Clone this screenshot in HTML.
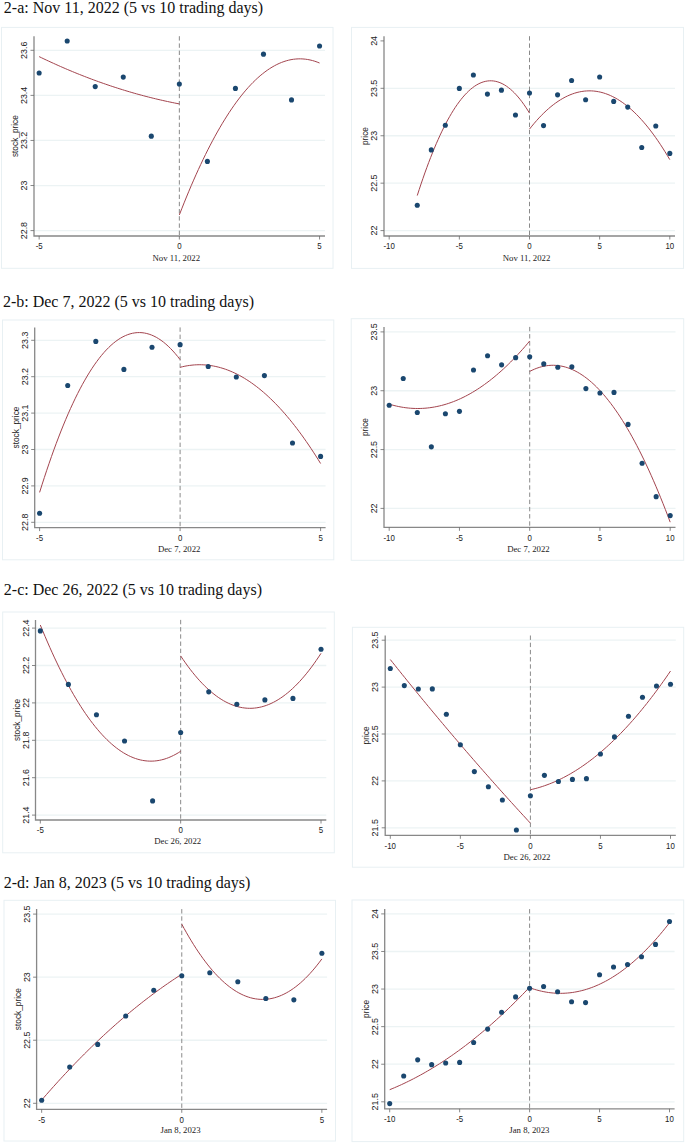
<!DOCTYPE html>
<html><head><meta charset="utf-8"><style>
html,body{margin:0;padding:0;background:#fff;}
svg{display:block;}
.sf{font-family:"Liberation Serif",serif;}
.ss{font-family:"Liberation Sans",sans-serif;}
</style></head><body>
<svg width="685" height="1143" viewBox="0 0 685 1143">
<rect width="685" height="1143" fill="#fff"/>
<text x="3.8" y="12.8" class="sf" font-size="16.0" fill="#111">2-a: Nov 11, 2022 (5 vs 10 trading days)</text>
<text x="2.9" y="306.8" class="sf" font-size="16.0" fill="#111">2-b: Dec 7, 2022 (5 vs 10 trading days)</text>
<text x="3.8" y="595.2" class="sf" font-size="16.0" fill="#111">2-c: Dec 26, 2022 (5 vs 10 trading days)</text>
<text x="3.7" y="887.8" class="sf" font-size="16.0" fill="#111">2-d: Jan 8, 2023 (5 vs 10 trading days)</text>
<rect x="1.5" y="27.4" width="331.5" height="240.9" fill="none" stroke="#e8f0f3" stroke-width="1"/>
<line x1="34" y1="230.6" x2="325" y2="230.6" stroke="#ecf3f4" stroke-width="1.3"/>
<line x1="34" y1="185.53" x2="325" y2="185.53" stroke="#ecf3f4" stroke-width="1.3"/>
<line x1="34" y1="140.45" x2="325" y2="140.45" stroke="#ecf3f4" stroke-width="1.3"/>
<line x1="34" y1="95.38" x2="325" y2="95.38" stroke="#ecf3f4" stroke-width="1.3"/>
<line x1="34" y1="50.3" x2="325" y2="50.3" stroke="#ecf3f4" stroke-width="1.3"/>
<line x1="179.35" y1="36.2" x2="179.35" y2="236" stroke="#8a8a8a" stroke-width="1" stroke-dasharray="4.4 2.8"/>
<path d="M34 36.2 V236 H325" fill="none" stroke="#888" stroke-width="1.3"/>
<line x1="30.5" y1="230.6" x2="34" y2="230.6" stroke="#6a6a6a" stroke-width="0.8"/>
<text transform="translate(27.2,230.6) rotate(-90) scale(0.94,1)" text-anchor="middle" class="ss" font-size="9.4" fill="#222">22.8</text>
<line x1="30.5" y1="185.53" x2="34" y2="185.53" stroke="#6a6a6a" stroke-width="0.8"/>
<text transform="translate(27.2,185.53) rotate(-90) scale(0.94,1)" text-anchor="middle" class="ss" font-size="9.4" fill="#222">23</text>
<line x1="30.5" y1="140.45" x2="34" y2="140.45" stroke="#6a6a6a" stroke-width="0.8"/>
<text transform="translate(27.2,140.45) rotate(-90) scale(0.94,1)" text-anchor="middle" class="ss" font-size="9.4" fill="#222">23.2</text>
<line x1="30.5" y1="95.38" x2="34" y2="95.38" stroke="#6a6a6a" stroke-width="0.8"/>
<text transform="translate(27.2,95.38) rotate(-90) scale(0.94,1)" text-anchor="middle" class="ss" font-size="9.4" fill="#222">23.4</text>
<line x1="30.5" y1="50.3" x2="34" y2="50.3" stroke="#6a6a6a" stroke-width="0.8"/>
<text transform="translate(27.2,50.3) rotate(-90) scale(0.94,1)" text-anchor="middle" class="ss" font-size="9.4" fill="#222">23.6</text>
<line x1="39.15" y1="236" x2="39.15" y2="239.5" stroke="#6a6a6a" stroke-width="0.8"/>
<text transform="translate(39.15,249.2) scale(0.85,1)" text-anchor="middle" class="ss" font-size="9.3" fill="#222">-5</text>
<line x1="179.35" y1="236" x2="179.35" y2="239.5" stroke="#6a6a6a" stroke-width="0.8"/>
<text transform="translate(179.35,249.2) scale(0.85,1)" text-anchor="middle" class="ss" font-size="9.3" fill="#222">0</text>
<line x1="319.55" y1="236" x2="319.55" y2="239.5" stroke="#6a6a6a" stroke-width="0.8"/>
<text transform="translate(319.55,249.2) scale(0.85,1)" text-anchor="middle" class="ss" font-size="9.3" fill="#222">5</text>
<text transform="translate(18.2,136.1) rotate(-90)" text-anchor="middle" class="ss" font-size="8.3" fill="#222">stock_price</text>
<text x="176.25" y="261.3" text-anchor="middle" class="sf" font-size="8.75" fill="#222">Nov 11, 2022</text>
<polyline points="39.15,56.62 41.53,57.76 43.90,58.90 46.28,60.02 48.66,61.13 51.03,62.23 53.41,63.31 55.78,64.39 58.16,65.45 60.54,66.50 62.91,67.54 65.29,68.57 67.67,69.58 70.04,70.58 72.42,71.57 74.79,72.55 77.17,73.52 79.55,74.48 81.92,75.42 84.30,76.35 86.68,77.27 89.05,78.18 91.43,79.08 93.80,79.96 96.18,80.84 98.56,81.70 100.93,82.54 103.31,83.38 105.69,84.21 108.06,85.02 110.44,85.82 112.81,86.61 115.19,87.39 117.57,88.16 119.94,88.91 122.32,89.65 124.70,90.38 127.07,91.10 129.45,91.81 131.82,92.50 134.20,93.19 136.58,93.86 138.95,94.52 141.33,95.17 143.71,95.80 146.08,96.43 148.46,97.04 150.83,97.64 153.21,98.23 155.59,98.80 157.96,99.37 160.34,99.92 162.72,100.46 165.09,100.99 167.47,101.51 169.84,102.01 172.22,102.51 174.60,102.99 176.97,103.46 179.35,103.92" fill="none" stroke="#a3444e" stroke-width="1.0"/>
<polyline points="179.35,214.91 181.73,208.82 184.10,202.85 186.48,196.99 188.86,191.26 191.23,185.65 193.61,180.16 195.98,174.80 198.36,169.55 200.74,164.43 203.11,159.43 205.49,154.54 207.87,149.78 210.24,145.15 212.62,140.63 214.99,136.23 217.37,131.96 219.75,127.81 222.12,123.78 224.50,119.87 226.88,116.08 229.25,112.41 231.63,108.86 234.00,105.44 236.38,102.14 238.76,98.96 241.13,95.89 243.51,92.96 245.89,90.14 248.26,87.44 250.64,84.87 253.01,82.41 255.39,80.08 257.77,77.87 260.14,75.78 262.52,73.82 264.90,71.97 267.27,70.24 269.65,68.64 272.02,67.16 274.40,65.80 276.78,64.56 279.15,63.44 281.53,62.45 283.91,61.57 286.28,60.82 288.66,60.18 291.03,59.67 293.41,59.28 295.79,59.02 298.16,58.87 300.54,58.84 302.92,58.94 305.29,59.16 307.67,59.50 310.04,59.96 312.42,60.54 314.80,61.24 317.17,62.07 319.55,63.01" fill="none" stroke="#a3444e" stroke-width="1.0"/>
<circle cx="39.15" cy="73.06" r="2.55" fill="#1a476f"/>
<circle cx="67.19" cy="41.06" r="2.55" fill="#1a476f"/>
<circle cx="95.23" cy="86.59" r="2.55" fill="#1a476f"/>
<circle cx="123.27" cy="77.12" r="2.55" fill="#1a476f"/>
<circle cx="151.31" cy="136.17" r="2.55" fill="#1a476f"/>
<circle cx="179.35" cy="84.11" r="2.55" fill="#1a476f"/>
<circle cx="207.39" cy="161.41" r="2.55" fill="#1a476f"/>
<circle cx="235.43" cy="88.39" r="2.55" fill="#1a476f"/>
<circle cx="263.47" cy="54.13" r="2.55" fill="#1a476f"/>
<circle cx="291.51" cy="99.88" r="2.55" fill="#1a476f"/>
<circle cx="319.55" cy="46.02" r="2.55" fill="#1a476f"/>
<rect x="351.5" y="27.4" width="332" height="241" fill="none" stroke="#e8f0f3" stroke-width="1"/>
<line x1="384" y1="230.6" x2="675" y2="230.6" stroke="#ecf3f4" stroke-width="1.3"/>
<line x1="384" y1="183.17" x2="675" y2="183.17" stroke="#ecf3f4" stroke-width="1.3"/>
<line x1="384" y1="135.75" x2="675" y2="135.75" stroke="#ecf3f4" stroke-width="1.3"/>
<line x1="384" y1="88.32" x2="675" y2="88.32" stroke="#ecf3f4" stroke-width="1.3"/>
<line x1="529.5" y1="36.2" x2="529.5" y2="236" stroke="#8a8a8a" stroke-width="1" stroke-dasharray="4.4 2.8"/>
<path d="M384 36.2 V236 H675" fill="none" stroke="#888" stroke-width="1.3"/>
<line x1="380.5" y1="230.6" x2="384" y2="230.6" stroke="#6a6a6a" stroke-width="0.8"/>
<text transform="translate(377.2,230.6) rotate(-90) scale(0.94,1)" text-anchor="middle" class="ss" font-size="9.4" fill="#222">22</text>
<line x1="380.5" y1="183.17" x2="384" y2="183.17" stroke="#6a6a6a" stroke-width="0.8"/>
<text transform="translate(377.2,183.17) rotate(-90) scale(0.94,1)" text-anchor="middle" class="ss" font-size="9.4" fill="#222">22.5</text>
<line x1="380.5" y1="135.75" x2="384" y2="135.75" stroke="#6a6a6a" stroke-width="0.8"/>
<text transform="translate(377.2,135.75) rotate(-90) scale(0.94,1)" text-anchor="middle" class="ss" font-size="9.4" fill="#222">23</text>
<line x1="380.5" y1="88.32" x2="384" y2="88.32" stroke="#6a6a6a" stroke-width="0.8"/>
<text transform="translate(377.2,88.32) rotate(-90) scale(0.94,1)" text-anchor="middle" class="ss" font-size="9.4" fill="#222">23.5</text>
<line x1="380.5" y1="40.9" x2="384" y2="40.9" stroke="#6a6a6a" stroke-width="0.8"/>
<text transform="translate(377.2,40.9) rotate(-90) scale(0.94,1)" text-anchor="middle" class="ss" font-size="9.4" fill="#222">24</text>
<line x1="389.2" y1="236" x2="389.2" y2="239.5" stroke="#6a6a6a" stroke-width="0.8"/>
<text transform="translate(389.2,249.2) scale(0.85,1)" text-anchor="middle" class="ss" font-size="9.3" fill="#222">-10</text>
<line x1="459.35" y1="236" x2="459.35" y2="239.5" stroke="#6a6a6a" stroke-width="0.8"/>
<text transform="translate(459.35,249.2) scale(0.85,1)" text-anchor="middle" class="ss" font-size="9.3" fill="#222">-5</text>
<line x1="529.5" y1="236" x2="529.5" y2="239.5" stroke="#6a6a6a" stroke-width="0.8"/>
<text transform="translate(529.5,249.2) scale(0.85,1)" text-anchor="middle" class="ss" font-size="9.3" fill="#222">0</text>
<line x1="599.65" y1="236" x2="599.65" y2="239.5" stroke="#6a6a6a" stroke-width="0.8"/>
<text transform="translate(599.65,249.2) scale(0.85,1)" text-anchor="middle" class="ss" font-size="9.3" fill="#222">5</text>
<line x1="669.8" y1="236" x2="669.8" y2="239.5" stroke="#6a6a6a" stroke-width="0.8"/>
<text transform="translate(669.8,249.2) scale(0.85,1)" text-anchor="middle" class="ss" font-size="9.3" fill="#222">10</text>
<text transform="translate(368.2,136.1) rotate(-90)" text-anchor="middle" class="ss" font-size="8.3" fill="#222">price</text>
<text x="526.55" y="260.6" text-anchor="middle" class="sf" font-size="8.75" fill="#222">Nov 11, 2022</text>
<polyline points="417.26,195.54 419.16,189.66 421.06,183.94 422.97,178.37 424.87,172.95 426.77,167.69 428.67,162.59 430.58,157.64 432.48,152.84 434.38,148.20 436.28,143.71 438.19,139.38 440.09,135.20 441.99,131.18 443.89,127.31 445.80,123.60 447.70,120.04 449.60,116.63 451.50,113.38 453.41,110.28 455.31,107.34 457.21,104.55 459.11,101.92 461.01,99.44 462.92,97.12 464.82,94.95 466.72,92.94 468.62,91.08 470.53,89.37 472.43,87.82 474.33,86.42 476.23,85.18 478.14,84.09 480.04,83.16 481.94,82.38 483.84,81.76 485.75,81.29 487.65,80.97 489.55,80.81 491.45,80.80 493.35,80.95 495.26,81.26 497.16,81.71 499.06,82.33 500.96,83.09 502.87,84.01 504.77,85.09 506.67,86.32 508.57,87.70 510.48,89.24 512.38,90.94 514.28,92.78 516.18,94.79 518.09,96.94 519.99,99.26 521.89,101.72 523.79,104.34 525.70,107.12 527.60,110.05 529.50,113.13" fill="none" stroke="#a3444e" stroke-width="1.0"/>
<polyline points="529.50,129.10 531.88,126.13 534.26,123.27 536.63,120.54 539.01,117.92 541.39,115.43 543.77,113.06 546.15,110.80 548.52,108.67 550.90,106.66 553.28,104.77 555.66,103.00 558.04,101.35 560.41,99.82 562.79,98.41 565.17,97.12 567.55,95.95 569.93,94.90 572.30,93.97 574.68,93.17 577.06,92.48 579.44,91.91 581.82,91.47 584.19,91.14 586.57,90.94 588.95,90.85 591.33,90.89 593.71,91.04 596.08,91.32 598.46,91.72 600.84,92.23 603.22,92.87 605.59,93.63 607.97,94.51 610.35,95.51 612.73,96.63 615.11,97.87 617.48,99.23 619.86,100.71 622.24,102.31 624.62,104.04 627.00,105.88 629.37,107.84 631.75,109.92 634.13,112.13 636.51,114.45 638.89,116.90 641.26,119.46 643.64,122.15 646.02,124.95 648.40,127.88 650.78,130.93 653.15,134.09 655.53,137.38 657.91,140.79 660.29,144.32 662.67,147.97 665.04,151.74 667.42,155.63 669.80,159.64" fill="none" stroke="#a3444e" stroke-width="1.0"/>
<circle cx="417.26" cy="205.28" r="2.55" fill="#1a476f"/>
<circle cx="431.29" cy="149.88" r="2.55" fill="#1a476f"/>
<circle cx="445.32" cy="125.22" r="2.55" fill="#1a476f"/>
<circle cx="459.35" cy="88.42" r="2.55" fill="#1a476f"/>
<circle cx="473.38" cy="74.95" r="2.55" fill="#1a476f"/>
<circle cx="487.41" cy="94.11" r="2.55" fill="#1a476f"/>
<circle cx="501.44" cy="90.13" r="2.55" fill="#1a476f"/>
<circle cx="515.47" cy="114.98" r="2.55" fill="#1a476f"/>
<circle cx="529.50" cy="93.07" r="2.55" fill="#1a476f"/>
<circle cx="543.53" cy="125.60" r="2.55" fill="#1a476f"/>
<circle cx="557.56" cy="94.87" r="2.55" fill="#1a476f"/>
<circle cx="571.59" cy="80.45" r="2.55" fill="#1a476f"/>
<circle cx="585.62" cy="99.71" r="2.55" fill="#1a476f"/>
<circle cx="599.65" cy="77.04" r="2.55" fill="#1a476f"/>
<circle cx="613.68" cy="101.41" r="2.55" fill="#1a476f"/>
<circle cx="627.71" cy="107.11" r="2.55" fill="#1a476f"/>
<circle cx="641.74" cy="147.51" r="2.55" fill="#1a476f"/>
<circle cx="655.77" cy="125.98" r="2.55" fill="#1a476f"/>
<circle cx="669.80" cy="153.39" r="2.55" fill="#1a476f"/>
<rect x="2.5" y="320" width="331.3" height="239.8" fill="none" stroke="#e8f0f3" stroke-width="1"/>
<line x1="34.7" y1="522.3" x2="325.6" y2="522.3" stroke="#ecf3f4" stroke-width="1.3"/>
<line x1="34.7" y1="485.9" x2="325.6" y2="485.9" stroke="#ecf3f4" stroke-width="1.3"/>
<line x1="34.7" y1="449.5" x2="325.6" y2="449.5" stroke="#ecf3f4" stroke-width="1.3"/>
<line x1="34.7" y1="413.1" x2="325.6" y2="413.1" stroke="#ecf3f4" stroke-width="1.3"/>
<line x1="34.7" y1="376.7" x2="325.6" y2="376.7" stroke="#ecf3f4" stroke-width="1.3"/>
<line x1="34.7" y1="340.3" x2="325.6" y2="340.3" stroke="#ecf3f4" stroke-width="1.3"/>
<line x1="180.1" y1="327.4" x2="180.1" y2="527.6" stroke="#8a8a8a" stroke-width="1" stroke-dasharray="4.4 2.8"/>
<path d="M34.7 327.4 V527.6 H325.6" fill="none" stroke="#888" stroke-width="1.3"/>
<line x1="31.2" y1="522.3" x2="34.7" y2="522.3" stroke="#6a6a6a" stroke-width="0.8"/>
<text transform="translate(27.9,522.3) rotate(-90) scale(0.94,1)" text-anchor="middle" class="ss" font-size="9.4" fill="#222">22.8</text>
<line x1="31.2" y1="485.9" x2="34.7" y2="485.9" stroke="#6a6a6a" stroke-width="0.8"/>
<text transform="translate(27.9,485.9) rotate(-90) scale(0.94,1)" text-anchor="middle" class="ss" font-size="9.4" fill="#222">22.9</text>
<line x1="31.2" y1="449.5" x2="34.7" y2="449.5" stroke="#6a6a6a" stroke-width="0.8"/>
<text transform="translate(27.9,449.5) rotate(-90) scale(0.94,1)" text-anchor="middle" class="ss" font-size="9.4" fill="#222">23</text>
<line x1="31.2" y1="413.1" x2="34.7" y2="413.1" stroke="#6a6a6a" stroke-width="0.8"/>
<text transform="translate(27.9,413.1) rotate(-90) scale(0.94,1)" text-anchor="middle" class="ss" font-size="9.4" fill="#222">23.1</text>
<line x1="31.2" y1="376.7" x2="34.7" y2="376.7" stroke="#6a6a6a" stroke-width="0.8"/>
<text transform="translate(27.9,376.7) rotate(-90) scale(0.94,1)" text-anchor="middle" class="ss" font-size="9.4" fill="#222">23.2</text>
<line x1="31.2" y1="340.3" x2="34.7" y2="340.3" stroke="#6a6a6a" stroke-width="0.8"/>
<text transform="translate(27.9,340.3) rotate(-90) scale(0.94,1)" text-anchor="middle" class="ss" font-size="9.4" fill="#222">23.3</text>
<line x1="39.6" y1="527.6" x2="39.6" y2="531.1" stroke="#6a6a6a" stroke-width="0.8"/>
<text transform="translate(39.6,540.8) scale(0.85,1)" text-anchor="middle" class="ss" font-size="9.3" fill="#222">-5</text>
<line x1="180.1" y1="527.6" x2="180.1" y2="531.1" stroke="#6a6a6a" stroke-width="0.8"/>
<text transform="translate(180.1,540.8) scale(0.85,1)" text-anchor="middle" class="ss" font-size="9.3" fill="#222">0</text>
<line x1="320.6" y1="527.6" x2="320.6" y2="531.1" stroke="#6a6a6a" stroke-width="0.8"/>
<text transform="translate(320.6,540.8) scale(0.85,1)" text-anchor="middle" class="ss" font-size="9.3" fill="#222">5</text>
<text transform="translate(18.9,427.5) rotate(-90)" text-anchor="middle" class="ss" font-size="8.3" fill="#222">stock_price</text>
<text x="179.15" y="552" text-anchor="middle" class="sf" font-size="8.75" fill="#222">Dec 7, 2022</text>
<polyline points="39.60,492.40 41.98,484.84 44.36,477.47 46.74,470.28 49.13,463.27 51.51,456.45 53.89,449.80 56.27,443.34 58.65,437.07 61.03,430.98 63.41,425.07 65.79,419.34 68.18,413.79 70.56,408.43 72.94,403.26 75.32,398.26 77.70,393.45 80.08,388.82 82.46,384.37 84.85,380.11 87.23,376.03 89.61,372.13 91.99,368.42 94.37,364.89 96.75,361.54 99.13,358.38 101.52,355.39 103.90,352.59 106.28,349.98 108.66,347.54 111.04,345.29 113.42,343.23 115.80,341.34 118.18,339.64 120.57,338.12 122.95,336.79 125.33,335.64 127.71,334.67 130.09,333.88 132.47,333.28 134.85,332.86 137.24,332.62 139.62,332.57 142.00,332.70 144.38,333.01 146.76,333.50 149.14,334.18 151.52,335.04 153.91,336.08 156.29,337.31 158.67,338.72 161.05,340.31 163.43,342.09 165.81,344.05 168.19,346.19 170.57,348.52 172.96,351.02 175.34,353.71 177.72,356.59 180.10,359.64" fill="none" stroke="#a3444e" stroke-width="1.0"/>
<polyline points="180.10,367.31 182.48,366.72 184.86,366.21 187.24,365.77 189.63,365.41 192.01,365.13 194.39,364.92 196.77,364.79 199.15,364.73 201.53,364.76 203.91,364.86 206.29,365.03 208.68,365.29 211.06,365.61 213.44,366.02 215.82,366.50 218.20,367.06 220.58,367.70 222.96,368.41 225.35,369.20 227.73,370.06 230.11,371.00 232.49,372.02 234.87,373.12 237.25,374.29 239.63,375.53 242.02,376.86 244.40,378.26 246.78,379.74 249.16,381.29 251.54,382.92 253.92,384.63 256.30,386.41 258.68,388.27 261.07,390.21 263.45,392.22 265.83,394.31 268.21,396.48 270.59,398.72 272.97,401.04 275.35,403.44 277.74,405.91 280.12,408.46 282.50,411.08 284.88,413.79 287.26,416.57 289.64,419.42 292.02,422.35 294.41,425.36 296.79,428.45 299.17,431.61 301.55,434.85 303.93,438.16 306.31,441.55 308.69,445.02 311.07,448.57 313.46,452.19 315.84,455.88 318.22,459.66 320.60,463.51" fill="none" stroke="#a3444e" stroke-width="1.0"/>
<circle cx="39.60" cy="513.20" r="2.55" fill="#1a476f"/>
<circle cx="67.70" cy="385.44" r="2.55" fill="#1a476f"/>
<circle cx="95.80" cy="341.39" r="2.55" fill="#1a476f"/>
<circle cx="123.90" cy="369.42" r="2.55" fill="#1a476f"/>
<circle cx="152.00" cy="347.22" r="2.55" fill="#1a476f"/>
<circle cx="180.10" cy="344.67" r="2.55" fill="#1a476f"/>
<circle cx="208.20" cy="366.51" r="2.55" fill="#1a476f"/>
<circle cx="236.30" cy="377.06" r="2.55" fill="#1a476f"/>
<circle cx="264.40" cy="375.61" r="2.55" fill="#1a476f"/>
<circle cx="292.50" cy="442.95" r="2.55" fill="#1a476f"/>
<circle cx="320.60" cy="456.42" r="2.55" fill="#1a476f"/>
<rect x="351.2" y="318.7" width="332.5" height="241.6" fill="none" stroke="#e8f0f3" stroke-width="1"/>
<line x1="384" y1="508.4" x2="675.5" y2="508.4" stroke="#ecf3f4" stroke-width="1.3"/>
<line x1="384" y1="449.57" x2="675.5" y2="449.57" stroke="#ecf3f4" stroke-width="1.3"/>
<line x1="384" y1="390.73" x2="675.5" y2="390.73" stroke="#ecf3f4" stroke-width="1.3"/>
<line x1="384" y1="331.9" x2="675.5" y2="331.9" stroke="#ecf3f4" stroke-width="1.3"/>
<line x1="529.7" y1="326.9" x2="529.7" y2="527.3" stroke="#8a8a8a" stroke-width="1" stroke-dasharray="4.4 2.8"/>
<path d="M384 326.9 V527.3 H675.5" fill="none" stroke="#888" stroke-width="1.3"/>
<line x1="380.5" y1="508.4" x2="384" y2="508.4" stroke="#6a6a6a" stroke-width="0.8"/>
<text transform="translate(377.2,508.4) rotate(-90) scale(0.94,1)" text-anchor="middle" class="ss" font-size="9.4" fill="#222">22</text>
<line x1="380.5" y1="449.57" x2="384" y2="449.57" stroke="#6a6a6a" stroke-width="0.8"/>
<text transform="translate(377.2,449.57) rotate(-90) scale(0.94,1)" text-anchor="middle" class="ss" font-size="9.4" fill="#222">22.5</text>
<line x1="380.5" y1="390.73" x2="384" y2="390.73" stroke="#6a6a6a" stroke-width="0.8"/>
<text transform="translate(377.2,390.73) rotate(-90) scale(0.94,1)" text-anchor="middle" class="ss" font-size="9.4" fill="#222">23</text>
<line x1="380.5" y1="331.9" x2="384" y2="331.9" stroke="#6a6a6a" stroke-width="0.8"/>
<text transform="translate(377.2,331.9) rotate(-90) scale(0.94,1)" text-anchor="middle" class="ss" font-size="9.4" fill="#222">23.5</text>
<line x1="389.2" y1="527.3" x2="389.2" y2="530.8" stroke="#6a6a6a" stroke-width="0.8"/>
<text transform="translate(389.2,540.5) scale(0.85,1)" text-anchor="middle" class="ss" font-size="9.3" fill="#222">-10</text>
<line x1="459.45" y1="527.3" x2="459.45" y2="530.8" stroke="#6a6a6a" stroke-width="0.8"/>
<text transform="translate(459.45,540.5) scale(0.85,1)" text-anchor="middle" class="ss" font-size="9.3" fill="#222">-5</text>
<line x1="529.7" y1="527.3" x2="529.7" y2="530.8" stroke="#6a6a6a" stroke-width="0.8"/>
<text transform="translate(529.7,540.5) scale(0.85,1)" text-anchor="middle" class="ss" font-size="9.3" fill="#222">0</text>
<line x1="599.95" y1="527.3" x2="599.95" y2="530.8" stroke="#6a6a6a" stroke-width="0.8"/>
<text transform="translate(599.95,540.5) scale(0.85,1)" text-anchor="middle" class="ss" font-size="9.3" fill="#222">5</text>
<line x1="670.2" y1="527.3" x2="670.2" y2="530.8" stroke="#6a6a6a" stroke-width="0.8"/>
<text transform="translate(670.2,540.5) scale(0.85,1)" text-anchor="middle" class="ss" font-size="9.3" fill="#222">10</text>
<text transform="translate(368.2,427.1) rotate(-90)" text-anchor="middle" class="ss" font-size="8.3" fill="#222">price</text>
<text x="528.45" y="552" text-anchor="middle" class="sf" font-size="8.75" fill="#222">Dec 7, 2022</text>
<polyline points="389.20,404.14 391.58,404.84 393.96,405.48 396.34,406.05 398.73,406.57 401.11,407.02 403.49,407.42 405.87,407.75 408.25,408.02 410.63,408.24 413.01,408.39 415.39,408.48 417.78,408.50 420.16,408.47 422.54,408.38 424.92,408.22 427.30,408.01 429.68,407.73 432.06,407.39 434.45,406.99 436.83,406.53 439.21,406.01 441.59,405.43 443.97,404.79 446.35,404.08 448.73,403.32 451.12,402.49 453.50,401.60 455.88,400.66 458.26,399.65 460.64,398.58 463.02,397.45 465.40,396.25 467.78,395.00 470.17,393.69 472.55,392.31 474.93,390.87 477.31,389.38 479.69,387.82 482.07,386.20 484.45,384.52 486.84,382.78 489.22,380.97 491.60,379.11 493.98,377.19 496.36,375.20 498.74,373.15 501.12,371.05 503.51,368.88 505.89,366.65 508.27,364.36 510.65,362.00 513.03,359.59 515.41,357.12 517.79,354.58 520.17,351.99 522.56,349.33 524.94,346.61 527.32,343.83 529.70,340.99" fill="none" stroke="#a3444e" stroke-width="1.0"/>
<polyline points="529.70,371.42 532.08,370.22 534.46,369.16 536.84,368.22 539.23,367.41 541.61,366.73 543.99,366.18 546.37,365.76 548.75,365.47 551.13,365.31 553.51,365.28 555.89,365.38 558.28,365.60 560.66,365.96 563.04,366.45 565.42,367.06 567.80,367.80 570.18,368.68 572.56,369.68 574.95,370.81 577.33,372.08 579.71,373.47 582.09,374.99 584.47,376.64 586.85,378.41 589.23,380.32 591.62,382.36 594.00,384.53 596.38,386.82 598.76,389.25 601.14,391.81 603.52,394.49 605.90,397.30 608.28,400.25 610.67,403.32 613.05,406.52 615.43,409.85 617.81,413.31 620.19,416.90 622.57,420.62 624.95,424.47 627.34,428.45 629.72,432.56 632.10,436.79 634.48,441.16 636.86,445.65 639.24,450.28 641.62,455.03 644.01,459.91 646.39,464.93 648.77,470.07 651.15,475.34 653.53,480.74 655.91,486.27 658.29,491.93 660.67,497.72 663.06,503.64 665.44,509.69 667.82,515.86 670.20,522.17" fill="none" stroke="#a3444e" stroke-width="1.0"/>
<circle cx="389.20" cy="405.32" r="2.55" fill="#1a476f"/>
<circle cx="403.25" cy="378.50" r="2.55" fill="#1a476f"/>
<circle cx="417.30" cy="412.50" r="2.55" fill="#1a476f"/>
<circle cx="431.35" cy="446.86" r="2.55" fill="#1a476f"/>
<circle cx="445.40" cy="413.80" r="2.55" fill="#1a476f"/>
<circle cx="459.45" cy="411.33" r="2.55" fill="#1a476f"/>
<circle cx="473.50" cy="370.02" r="2.55" fill="#1a476f"/>
<circle cx="487.55" cy="355.79" r="2.55" fill="#1a476f"/>
<circle cx="501.60" cy="364.85" r="2.55" fill="#1a476f"/>
<circle cx="515.65" cy="357.67" r="2.55" fill="#1a476f"/>
<circle cx="529.70" cy="356.85" r="2.55" fill="#1a476f"/>
<circle cx="543.75" cy="363.91" r="2.55" fill="#1a476f"/>
<circle cx="557.80" cy="367.32" r="2.55" fill="#1a476f"/>
<circle cx="571.85" cy="366.85" r="2.55" fill="#1a476f"/>
<circle cx="585.90" cy="388.62" r="2.55" fill="#1a476f"/>
<circle cx="599.95" cy="392.97" r="2.55" fill="#1a476f"/>
<circle cx="614.00" cy="392.38" r="2.55" fill="#1a476f"/>
<circle cx="628.05" cy="424.39" r="2.55" fill="#1a476f"/>
<circle cx="642.10" cy="463.22" r="2.55" fill="#1a476f"/>
<circle cx="656.15" cy="496.63" r="2.55" fill="#1a476f"/>
<circle cx="670.20" cy="515.58" r="2.55" fill="#1a476f"/>
<rect x="2.7" y="612" width="331.6" height="240.8" fill="none" stroke="#e8f0f3" stroke-width="1"/>
<line x1="35.5" y1="815.1" x2="326.3" y2="815.1" stroke="#ecf3f4" stroke-width="1.3"/>
<line x1="35.5" y1="777.7" x2="326.3" y2="777.7" stroke="#ecf3f4" stroke-width="1.3"/>
<line x1="35.5" y1="740.3" x2="326.3" y2="740.3" stroke="#ecf3f4" stroke-width="1.3"/>
<line x1="35.5" y1="702.9" x2="326.3" y2="702.9" stroke="#ecf3f4" stroke-width="1.3"/>
<line x1="35.5" y1="665.5" x2="326.3" y2="665.5" stroke="#ecf3f4" stroke-width="1.3"/>
<line x1="35.5" y1="628.1" x2="326.3" y2="628.1" stroke="#ecf3f4" stroke-width="1.3"/>
<line x1="180.67" y1="619.9" x2="180.67" y2="820" stroke="#8a8a8a" stroke-width="1" stroke-dasharray="4.4 2.8"/>
<path d="M35.5 619.9 V820 H326.3" fill="none" stroke="#888" stroke-width="1.3"/>
<line x1="32" y1="815.1" x2="35.5" y2="815.1" stroke="#6a6a6a" stroke-width="0.8"/>
<text transform="translate(28.7,815.1) rotate(-90) scale(0.94,1)" text-anchor="middle" class="ss" font-size="9.4" fill="#222">21.4</text>
<line x1="32" y1="777.7" x2="35.5" y2="777.7" stroke="#6a6a6a" stroke-width="0.8"/>
<text transform="translate(28.7,777.7) rotate(-90) scale(0.94,1)" text-anchor="middle" class="ss" font-size="9.4" fill="#222">21.6</text>
<line x1="32" y1="740.3" x2="35.5" y2="740.3" stroke="#6a6a6a" stroke-width="0.8"/>
<text transform="translate(28.7,740.3) rotate(-90) scale(0.94,1)" text-anchor="middle" class="ss" font-size="9.4" fill="#222">21.8</text>
<line x1="32" y1="702.9" x2="35.5" y2="702.9" stroke="#6a6a6a" stroke-width="0.8"/>
<text transform="translate(28.7,702.9) rotate(-90) scale(0.94,1)" text-anchor="middle" class="ss" font-size="9.4" fill="#222">22</text>
<line x1="32" y1="665.5" x2="35.5" y2="665.5" stroke="#6a6a6a" stroke-width="0.8"/>
<text transform="translate(28.7,665.5) rotate(-90) scale(0.94,1)" text-anchor="middle" class="ss" font-size="9.4" fill="#222">22.2</text>
<line x1="32" y1="628.1" x2="35.5" y2="628.1" stroke="#6a6a6a" stroke-width="0.8"/>
<text transform="translate(28.7,628.1) rotate(-90) scale(0.94,1)" text-anchor="middle" class="ss" font-size="9.4" fill="#222">22.4</text>
<line x1="40.32" y1="820" x2="40.32" y2="823.5" stroke="#6a6a6a" stroke-width="0.8"/>
<text transform="translate(40.32,833.2) scale(0.85,1)" text-anchor="middle" class="ss" font-size="9.3" fill="#222">-5</text>
<line x1="180.67" y1="820" x2="180.67" y2="823.5" stroke="#6a6a6a" stroke-width="0.8"/>
<text transform="translate(180.67,833.2) scale(0.85,1)" text-anchor="middle" class="ss" font-size="9.3" fill="#222">0</text>
<line x1="321.02" y1="820" x2="321.02" y2="823.5" stroke="#6a6a6a" stroke-width="0.8"/>
<text transform="translate(321.02,833.2) scale(0.85,1)" text-anchor="middle" class="ss" font-size="9.3" fill="#222">5</text>
<text transform="translate(19.7,719.95) rotate(-90)" text-anchor="middle" class="ss" font-size="8.3" fill="#222">stock_price</text>
<text x="177.75" y="844.3" text-anchor="middle" class="sf" font-size="8.75" fill="#222">Dec 26, 2022</text>
<polyline points="40.32,625.03 42.70,630.82 45.08,636.49 47.46,642.03 49.84,647.45 52.21,652.74 54.59,657.91 56.97,662.94 59.35,667.86 61.73,672.64 64.11,677.30 66.49,681.84 68.87,686.25 71.24,690.53 73.62,694.69 76.00,698.72 78.38,702.62 80.76,706.40 83.14,710.05 85.52,713.58 87.90,716.98 90.28,720.25 92.65,723.40 95.03,726.42 97.41,729.31 99.79,732.08 102.17,734.73 104.55,737.25 106.93,739.64 109.31,741.90 111.68,744.04 114.06,746.06 116.44,747.94 118.82,749.70 121.20,751.34 123.58,752.85 125.96,754.23 128.34,755.49 130.71,756.62 133.09,757.62 135.47,758.50 137.85,759.26 140.23,759.88 142.61,760.38 144.99,760.76 147.37,761.01 149.75,761.13 152.12,761.13 154.50,761.00 156.88,760.74 159.26,760.36 161.64,759.85 164.02,759.22 166.40,758.46 168.78,757.57 171.15,756.56 173.53,755.42 175.91,754.16 178.29,752.77 180.67,751.25" fill="none" stroke="#a3444e" stroke-width="1.0"/>
<polyline points="180.67,655.93 183.05,659.46 185.43,662.87 187.81,666.16 190.19,669.32 192.56,672.36 194.94,675.28 197.32,678.07 199.70,680.74 202.08,683.29 204.46,685.71 206.84,688.01 209.22,690.19 211.59,692.24 213.97,694.17 216.35,695.98 218.73,697.66 221.11,699.22 223.49,700.66 225.87,701.97 228.25,703.16 230.63,704.23 233.00,705.17 235.38,705.99 237.76,706.68 240.14,707.26 242.52,707.71 244.90,708.03 247.28,708.24 249.66,708.32 252.03,708.27 254.41,708.10 256.79,707.81 259.17,707.40 261.55,706.86 263.93,706.20 266.31,705.42 268.69,704.51 271.06,703.48 273.44,702.32 275.82,701.05 278.20,699.65 280.58,698.12 282.96,696.47 285.34,694.70 287.72,692.81 290.10,690.79 292.47,688.65 294.85,686.39 297.23,684.00 299.61,681.49 301.99,678.85 304.37,676.09 306.75,673.21 309.13,670.21 311.50,667.08 313.88,663.83 316.26,660.45 318.64,656.96 321.02,653.33" fill="none" stroke="#a3444e" stroke-width="1.0"/>
<circle cx="40.32" cy="630.90" r="2.55" fill="#1a476f"/>
<circle cx="68.39" cy="684.39" r="2.55" fill="#1a476f"/>
<circle cx="96.46" cy="714.68" r="2.55" fill="#1a476f"/>
<circle cx="124.53" cy="741.05" r="2.55" fill="#1a476f"/>
<circle cx="152.60" cy="800.89" r="2.55" fill="#1a476f"/>
<circle cx="180.67" cy="732.45" r="2.55" fill="#1a476f"/>
<circle cx="208.74" cy="691.87" r="2.55" fill="#1a476f"/>
<circle cx="236.81" cy="704.21" r="2.55" fill="#1a476f"/>
<circle cx="264.88" cy="699.91" r="2.55" fill="#1a476f"/>
<circle cx="292.95" cy="698.41" r="2.55" fill="#1a476f"/>
<circle cx="321.02" cy="649.23" r="2.55" fill="#1a476f"/>
<rect x="352.4" y="627.3" width="331.3" height="239.9" fill="none" stroke="#e8f0f3" stroke-width="1"/>
<line x1="385.2" y1="827.8" x2="675.8" y2="827.8" stroke="#ecf3f4" stroke-width="1.3"/>
<line x1="385.2" y1="780.9" x2="675.8" y2="780.9" stroke="#ecf3f4" stroke-width="1.3"/>
<line x1="385.2" y1="734" x2="675.8" y2="734" stroke="#ecf3f4" stroke-width="1.3"/>
<line x1="385.2" y1="687.1" x2="675.8" y2="687.1" stroke="#ecf3f4" stroke-width="1.3"/>
<line x1="385.2" y1="640.2" x2="675.8" y2="640.2" stroke="#ecf3f4" stroke-width="1.3"/>
<line x1="530.4" y1="635.5" x2="530.4" y2="835.3" stroke="#8a8a8a" stroke-width="1" stroke-dasharray="4.4 2.8"/>
<path d="M385.2 635.5 V835.3 H675.8" fill="none" stroke="#888" stroke-width="1.3"/>
<line x1="381.7" y1="827.8" x2="385.2" y2="827.8" stroke="#6a6a6a" stroke-width="0.8"/>
<text transform="translate(378.4,827.8) rotate(-90) scale(0.94,1)" text-anchor="middle" class="ss" font-size="9.4" fill="#222">21.5</text>
<line x1="381.7" y1="780.9" x2="385.2" y2="780.9" stroke="#6a6a6a" stroke-width="0.8"/>
<text transform="translate(378.4,780.9) rotate(-90) scale(0.94,1)" text-anchor="middle" class="ss" font-size="9.4" fill="#222">22</text>
<line x1="381.7" y1="734" x2="385.2" y2="734" stroke="#6a6a6a" stroke-width="0.8"/>
<text transform="translate(378.4,734) rotate(-90) scale(0.94,1)" text-anchor="middle" class="ss" font-size="9.4" fill="#222">22.5</text>
<line x1="381.7" y1="687.1" x2="385.2" y2="687.1" stroke="#6a6a6a" stroke-width="0.8"/>
<text transform="translate(378.4,687.1) rotate(-90) scale(0.94,1)" text-anchor="middle" class="ss" font-size="9.4" fill="#222">23</text>
<line x1="381.7" y1="640.2" x2="385.2" y2="640.2" stroke="#6a6a6a" stroke-width="0.8"/>
<text transform="translate(378.4,640.2) rotate(-90) scale(0.94,1)" text-anchor="middle" class="ss" font-size="9.4" fill="#222">23.5</text>
<line x1="390.3" y1="835.3" x2="390.3" y2="838.8" stroke="#6a6a6a" stroke-width="0.8"/>
<text transform="translate(390.3,848.5) scale(0.85,1)" text-anchor="middle" class="ss" font-size="9.3" fill="#222">-10</text>
<line x1="460.35" y1="835.3" x2="460.35" y2="838.8" stroke="#6a6a6a" stroke-width="0.8"/>
<text transform="translate(460.35,848.5) scale(0.85,1)" text-anchor="middle" class="ss" font-size="9.3" fill="#222">-5</text>
<line x1="530.4" y1="835.3" x2="530.4" y2="838.8" stroke="#6a6a6a" stroke-width="0.8"/>
<text transform="translate(530.4,848.5) scale(0.85,1)" text-anchor="middle" class="ss" font-size="9.3" fill="#222">0</text>
<line x1="600.45" y1="835.3" x2="600.45" y2="838.8" stroke="#6a6a6a" stroke-width="0.8"/>
<text transform="translate(600.45,848.5) scale(0.85,1)" text-anchor="middle" class="ss" font-size="9.3" fill="#222">5</text>
<line x1="670.5" y1="835.3" x2="670.5" y2="838.8" stroke="#6a6a6a" stroke-width="0.8"/>
<text transform="translate(670.5,848.5) scale(0.85,1)" text-anchor="middle" class="ss" font-size="9.3" fill="#222">10</text>
<text transform="translate(369.4,735.4) rotate(-90)" text-anchor="middle" class="ss" font-size="8.3" fill="#222">price</text>
<text x="527" y="860" text-anchor="middle" class="sf" font-size="8.75" fill="#222">Dec 26, 2022</text>
<polyline points="390.30,659.54 392.67,662.52 395.05,665.49 397.42,668.46 399.80,671.42 402.17,674.37 404.55,677.31 406.92,680.25 409.30,683.18 411.67,686.10 414.05,689.01 416.42,691.92 418.79,694.82 421.17,697.72 423.54,700.60 425.92,703.48 428.29,706.36 430.67,709.22 433.04,712.08 435.42,714.93 437.79,717.78 440.17,720.61 442.54,723.44 444.92,726.27 447.29,729.08 449.66,731.89 452.04,734.69 454.41,737.49 456.79,740.28 459.16,743.06 461.54,745.83 463.91,748.60 466.29,751.36 468.66,754.11 471.04,756.85 473.41,759.59 475.78,762.32 478.16,765.04 480.53,767.76 482.91,770.47 485.28,773.17 487.66,775.87 490.03,778.56 492.41,781.24 494.78,783.91 497.16,786.58 499.53,789.24 501.91,791.89 504.28,794.54 506.65,797.18 509.03,799.81 511.40,802.43 513.78,805.05 516.15,807.66 518.53,810.26 520.90,812.86 523.28,815.45 525.65,818.03 528.03,820.61 530.40,823.17" fill="none" stroke="#a3444e" stroke-width="1.0"/>
<polyline points="530.40,789.74 532.77,789.20 535.15,788.60 537.52,787.95 539.90,787.25 542.27,786.50 544.65,785.70 547.02,784.85 549.40,783.95 551.77,783.00 554.15,782.00 556.52,780.95 558.89,779.85 561.27,778.69 563.64,777.49 566.02,776.24 568.39,774.93 570.77,773.58 573.14,772.17 575.52,770.71 577.89,769.21 580.27,767.65 582.64,766.04 585.02,764.38 587.39,762.67 589.76,760.92 592.14,759.11 594.51,757.24 596.89,755.33 599.26,753.37 601.64,751.36 604.01,749.30 606.39,747.18 608.76,745.02 611.14,742.81 613.51,740.54 615.88,738.23 618.26,735.86 620.63,733.44 623.01,730.98 625.38,728.46 627.76,725.89 630.13,723.27 632.51,720.61 634.88,717.89 637.26,715.12 639.63,712.30 642.01,709.42 644.38,706.50 646.75,703.53 649.13,700.51 651.50,697.44 653.88,694.31 656.25,691.14 658.63,687.91 661.00,684.64 663.38,681.31 665.75,677.94 668.13,674.51 670.50,671.03" fill="none" stroke="#a3444e" stroke-width="1.0"/>
<circle cx="390.30" cy="668.53" r="2.55" fill="#1a476f"/>
<circle cx="404.31" cy="685.60" r="2.55" fill="#1a476f"/>
<circle cx="418.32" cy="689.07" r="2.55" fill="#1a476f"/>
<circle cx="432.33" cy="688.88" r="2.55" fill="#1a476f"/>
<circle cx="446.34" cy="714.21" r="2.55" fill="#1a476f"/>
<circle cx="460.35" cy="744.79" r="2.55" fill="#1a476f"/>
<circle cx="474.36" cy="771.61" r="2.55" fill="#1a476f"/>
<circle cx="488.37" cy="786.81" r="2.55" fill="#1a476f"/>
<circle cx="502.38" cy="800.04" r="2.55" fill="#1a476f"/>
<circle cx="516.39" cy="830.05" r="2.55" fill="#1a476f"/>
<circle cx="530.40" cy="795.72" r="2.55" fill="#1a476f"/>
<circle cx="544.41" cy="775.37" r="2.55" fill="#1a476f"/>
<circle cx="558.42" cy="781.56" r="2.55" fill="#1a476f"/>
<circle cx="572.43" cy="779.40" r="2.55" fill="#1a476f"/>
<circle cx="586.44" cy="778.65" r="2.55" fill="#1a476f"/>
<circle cx="600.45" cy="753.98" r="2.55" fill="#1a476f"/>
<circle cx="614.46" cy="736.91" r="2.55" fill="#1a476f"/>
<circle cx="628.47" cy="716.18" r="2.55" fill="#1a476f"/>
<circle cx="642.48" cy="697.32" r="2.55" fill="#1a476f"/>
<circle cx="656.49" cy="686.07" r="2.55" fill="#1a476f"/>
<circle cx="670.50" cy="684.19" r="2.55" fill="#1a476f"/>
<rect x="4" y="900.3" width="331.5" height="240.7" fill="none" stroke="#e8f0f3" stroke-width="1"/>
<line x1="36.6" y1="1103.3" x2="327.1" y2="1103.3" stroke="#ecf3f4" stroke-width="1.3"/>
<line x1="36.6" y1="1040.23" x2="327.1" y2="1040.23" stroke="#ecf3f4" stroke-width="1.3"/>
<line x1="36.6" y1="977.17" x2="327.1" y2="977.17" stroke="#ecf3f4" stroke-width="1.3"/>
<line x1="36.6" y1="914.1" x2="327.1" y2="914.1" stroke="#ecf3f4" stroke-width="1.3"/>
<line x1="181.77" y1="909.1" x2="181.77" y2="1109.3" stroke="#8a8a8a" stroke-width="1" stroke-dasharray="4.4 2.8"/>
<path d="M36.6 909.1 V1109.3 H327.1" fill="none" stroke="#888" stroke-width="1.3"/>
<line x1="33.1" y1="1103.3" x2="36.6" y2="1103.3" stroke="#6a6a6a" stroke-width="0.8"/>
<text transform="translate(29.8,1103.3) rotate(-90) scale(0.94,1)" text-anchor="middle" class="ss" font-size="9.4" fill="#222">22</text>
<line x1="33.1" y1="1040.23" x2="36.6" y2="1040.23" stroke="#6a6a6a" stroke-width="0.8"/>
<text transform="translate(29.8,1040.23) rotate(-90) scale(0.94,1)" text-anchor="middle" class="ss" font-size="9.4" fill="#222">22.5</text>
<line x1="33.1" y1="977.17" x2="36.6" y2="977.17" stroke="#6a6a6a" stroke-width="0.8"/>
<text transform="translate(29.8,977.17) rotate(-90) scale(0.94,1)" text-anchor="middle" class="ss" font-size="9.4" fill="#222">23</text>
<line x1="33.1" y1="914.1" x2="36.6" y2="914.1" stroke="#6a6a6a" stroke-width="0.8"/>
<text transform="translate(29.8,914.1) rotate(-90) scale(0.94,1)" text-anchor="middle" class="ss" font-size="9.4" fill="#222">23.5</text>
<line x1="41.67" y1="1109.3" x2="41.67" y2="1112.8" stroke="#6a6a6a" stroke-width="0.8"/>
<text transform="translate(41.67,1122.5) scale(0.85,1)" text-anchor="middle" class="ss" font-size="9.3" fill="#222">-5</text>
<line x1="181.77" y1="1109.3" x2="181.77" y2="1112.8" stroke="#6a6a6a" stroke-width="0.8"/>
<text transform="translate(181.77,1122.5) scale(0.85,1)" text-anchor="middle" class="ss" font-size="9.3" fill="#222">0</text>
<line x1="321.87" y1="1109.3" x2="321.87" y2="1112.8" stroke="#6a6a6a" stroke-width="0.8"/>
<text transform="translate(321.87,1122.5) scale(0.85,1)" text-anchor="middle" class="ss" font-size="9.3" fill="#222">5</text>
<text transform="translate(20.8,1009.2) rotate(-90)" text-anchor="middle" class="ss" font-size="8.3" fill="#222">stock_price</text>
<text x="180.55" y="1132.5" text-anchor="middle" class="sf" font-size="8.75" fill="#222">Jan 8, 2023</text>
<polyline points="41.67,1100.05 44.04,1097.31 46.42,1094.60 48.79,1091.90 51.17,1089.22 53.54,1086.57 55.92,1083.94 58.29,1081.32 60.67,1078.73 63.04,1076.16 65.42,1073.61 67.79,1071.08 70.16,1068.57 72.54,1066.08 74.91,1063.62 77.29,1061.17 79.66,1058.75 82.04,1056.34 84.41,1053.96 86.79,1051.60 89.16,1049.25 91.54,1046.93 93.91,1044.63 96.29,1042.35 98.66,1040.10 101.03,1037.86 103.41,1035.64 105.78,1033.45 108.16,1031.27 110.53,1029.12 112.91,1026.99 115.28,1024.87 117.66,1022.78 120.03,1020.71 122.41,1018.66 124.78,1016.63 127.15,1014.63 129.53,1012.64 131.90,1010.67 134.28,1008.73 136.65,1006.80 139.03,1004.90 141.40,1003.02 143.78,1001.16 146.15,999.32 148.53,997.50 150.90,995.70 153.28,993.92 155.65,992.16 158.02,990.42 160.40,988.71 162.77,987.01 165.15,985.34 167.52,983.69 169.90,982.05 172.27,980.44 174.65,978.85 177.02,977.28 179.40,975.73 181.77,974.21" fill="none" stroke="#a3444e" stroke-width="1.0"/>
<polyline points="181.77,924.17 184.14,928.52 186.52,932.75 188.89,936.85 191.27,940.81 193.64,944.65 196.02,948.36 198.39,951.94 200.77,955.38 203.14,958.70 205.52,961.89 207.89,964.95 210.26,967.87 212.64,970.67 215.01,973.34 217.39,975.88 219.76,978.29 222.14,980.56 224.51,982.71 226.89,984.73 229.26,986.62 231.64,988.38 234.01,990.01 236.39,991.51 238.76,992.87 241.13,994.11 243.51,995.22 245.88,996.20 248.26,997.05 250.63,997.77 253.01,998.36 255.38,998.82 257.76,999.15 260.13,999.35 262.51,999.42 264.88,999.35 267.25,999.16 269.63,998.84 272.00,998.39 274.38,997.81 276.75,997.10 279.13,996.26 281.50,995.29 283.88,994.19 286.25,992.96 288.63,991.60 291.00,990.11 293.38,988.49 295.75,986.74 298.12,984.87 300.50,982.86 302.87,980.72 305.25,978.45 307.62,976.05 310.00,973.52 312.37,970.86 314.75,968.07 317.12,965.15 319.50,962.10 321.87,958.92" fill="none" stroke="#a3444e" stroke-width="1.0"/>
<circle cx="41.67" cy="1100.27" r="2.55" fill="#1a476f"/>
<circle cx="69.69" cy="1066.97" r="2.55" fill="#1a476f"/>
<circle cx="97.71" cy="1044.40" r="2.55" fill="#1a476f"/>
<circle cx="125.73" cy="1016.02" r="2.55" fill="#1a476f"/>
<circle cx="153.75" cy="990.28" r="2.55" fill="#1a476f"/>
<circle cx="181.77" cy="975.78" r="2.55" fill="#1a476f"/>
<circle cx="209.79" cy="972.75" r="2.55" fill="#1a476f"/>
<circle cx="237.81" cy="981.71" r="2.55" fill="#1a476f"/>
<circle cx="265.83" cy="998.48" r="2.55" fill="#1a476f"/>
<circle cx="293.85" cy="999.87" r="2.55" fill="#1a476f"/>
<circle cx="321.87" cy="953.20" r="2.55" fill="#1a476f"/>
<rect x="352" y="900" width="331.7" height="241.6" fill="none" stroke="#e8f0f3" stroke-width="1"/>
<line x1="384.7" y1="1101.8" x2="674.6" y2="1101.8" stroke="#ecf3f4" stroke-width="1.3"/>
<line x1="384.7" y1="1064.22" x2="674.6" y2="1064.22" stroke="#ecf3f4" stroke-width="1.3"/>
<line x1="384.7" y1="1026.64" x2="674.6" y2="1026.64" stroke="#ecf3f4" stroke-width="1.3"/>
<line x1="384.7" y1="989.06" x2="674.6" y2="989.06" stroke="#ecf3f4" stroke-width="1.3"/>
<line x1="384.7" y1="951.48" x2="674.6" y2="951.48" stroke="#ecf3f4" stroke-width="1.3"/>
<line x1="384.7" y1="913.9" x2="674.6" y2="913.9" stroke="#ecf3f4" stroke-width="1.3"/>
<line x1="529.6" y1="909.1" x2="529.6" y2="1108.8" stroke="#8a8a8a" stroke-width="1" stroke-dasharray="4.4 2.8"/>
<path d="M384.7 909.1 V1108.8 H674.6" fill="none" stroke="#888" stroke-width="1.3"/>
<line x1="381.2" y1="1101.8" x2="384.7" y2="1101.8" stroke="#6a6a6a" stroke-width="0.8"/>
<text transform="translate(377.9,1101.8) rotate(-90) scale(0.94,1)" text-anchor="middle" class="ss" font-size="9.4" fill="#222">21.5</text>
<line x1="381.2" y1="1064.22" x2="384.7" y2="1064.22" stroke="#6a6a6a" stroke-width="0.8"/>
<text transform="translate(377.9,1064.22) rotate(-90) scale(0.94,1)" text-anchor="middle" class="ss" font-size="9.4" fill="#222">22</text>
<line x1="381.2" y1="1026.64" x2="384.7" y2="1026.64" stroke="#6a6a6a" stroke-width="0.8"/>
<text transform="translate(377.9,1026.64) rotate(-90) scale(0.94,1)" text-anchor="middle" class="ss" font-size="9.4" fill="#222">22.5</text>
<line x1="381.2" y1="989.06" x2="384.7" y2="989.06" stroke="#6a6a6a" stroke-width="0.8"/>
<text transform="translate(377.9,989.06) rotate(-90) scale(0.94,1)" text-anchor="middle" class="ss" font-size="9.4" fill="#222">23</text>
<line x1="381.2" y1="951.48" x2="384.7" y2="951.48" stroke="#6a6a6a" stroke-width="0.8"/>
<text transform="translate(377.9,951.48) rotate(-90) scale(0.94,1)" text-anchor="middle" class="ss" font-size="9.4" fill="#222">23.5</text>
<line x1="381.2" y1="913.9" x2="384.7" y2="913.9" stroke="#6a6a6a" stroke-width="0.8"/>
<text transform="translate(377.9,913.9) rotate(-90) scale(0.94,1)" text-anchor="middle" class="ss" font-size="9.4" fill="#222">24</text>
<line x1="389.7" y1="1108.8" x2="389.7" y2="1112.3" stroke="#6a6a6a" stroke-width="0.8"/>
<text transform="translate(389.7,1122) scale(0.85,1)" text-anchor="middle" class="ss" font-size="9.3" fill="#222">-10</text>
<line x1="459.65" y1="1108.8" x2="459.65" y2="1112.3" stroke="#6a6a6a" stroke-width="0.8"/>
<text transform="translate(459.65,1122) scale(0.85,1)" text-anchor="middle" class="ss" font-size="9.3" fill="#222">-5</text>
<line x1="529.6" y1="1108.8" x2="529.6" y2="1112.3" stroke="#6a6a6a" stroke-width="0.8"/>
<text transform="translate(529.6,1122) scale(0.85,1)" text-anchor="middle" class="ss" font-size="9.3" fill="#222">0</text>
<line x1="599.55" y1="1108.8" x2="599.55" y2="1112.3" stroke="#6a6a6a" stroke-width="0.8"/>
<text transform="translate(599.55,1122) scale(0.85,1)" text-anchor="middle" class="ss" font-size="9.3" fill="#222">5</text>
<line x1="669.5" y1="1108.8" x2="669.5" y2="1112.3" stroke="#6a6a6a" stroke-width="0.8"/>
<text transform="translate(669.5,1122) scale(0.85,1)" text-anchor="middle" class="ss" font-size="9.3" fill="#222">10</text>
<text transform="translate(368.9,1008.95) rotate(-90)" text-anchor="middle" class="ss" font-size="8.3" fill="#222">price</text>
<text x="529.35" y="1133.3" text-anchor="middle" class="sf" font-size="8.75" fill="#222">Jan 8, 2023</text>
<polyline points="389.70,1089.70 392.07,1088.73 394.44,1087.73 396.81,1086.71 399.18,1085.66 401.56,1084.58 403.93,1083.47 406.30,1082.34 408.67,1081.19 411.04,1080.00 413.41,1078.79 415.78,1077.56 418.15,1076.29 420.53,1075.01 422.90,1073.69 425.27,1072.35 427.64,1070.98 430.01,1069.59 432.38,1068.16 434.75,1066.72 437.12,1065.24 439.49,1063.74 441.87,1062.22 444.24,1060.66 446.61,1059.08 448.98,1057.48 451.35,1055.84 453.72,1054.19 456.09,1052.50 458.46,1050.79 460.84,1049.05 463.21,1047.29 465.58,1045.50 467.95,1043.68 470.32,1041.84 472.69,1039.97 475.06,1038.07 477.43,1036.15 479.81,1034.20 482.18,1032.22 484.55,1030.22 486.92,1028.19 489.29,1026.14 491.66,1024.06 494.03,1021.95 496.40,1019.81 498.77,1017.65 501.15,1015.47 503.52,1013.25 505.89,1011.01 508.26,1008.75 510.63,1006.45 513.00,1004.14 515.37,1001.79 517.74,999.42 520.12,997.02 522.49,994.60 524.86,992.14 527.23,989.67 529.60,987.16" fill="none" stroke="#a3444e" stroke-width="1.0"/>
<polyline points="529.60,987.70 531.97,988.54 534.34,989.30 536.71,990.00 539.08,990.64 541.46,991.20 543.83,991.70 546.20,992.14 548.57,992.50 550.94,992.80 553.31,993.04 555.68,993.20 558.05,993.30 560.43,993.34 562.80,993.30 565.17,993.20 567.54,993.03 569.91,992.80 572.28,992.50 574.65,992.13 577.02,991.70 579.39,991.20 581.77,990.63 584.14,990.00 586.51,989.30 588.88,988.53 591.25,987.70 593.62,986.80 595.99,985.83 598.36,984.80 600.74,983.70 603.11,982.53 605.48,981.30 607.85,980.00 610.22,978.63 612.59,977.20 614.96,975.70 617.33,974.13 619.71,972.50 622.08,970.80 624.45,969.03 626.82,967.20 629.19,965.30 631.56,963.33 633.93,961.30 636.30,959.20 638.67,957.03 641.05,954.80 643.42,952.50 645.79,950.13 648.16,947.70 650.53,945.20 652.90,942.63 655.27,940.00 657.64,937.29 660.02,934.53 662.39,931.69 664.76,928.79 667.13,925.83 669.50,922.79" fill="none" stroke="#a3444e" stroke-width="1.0"/>
<circle cx="389.70" cy="1103.60" r="2.55" fill="#1a476f"/>
<circle cx="403.69" cy="1076.02" r="2.55" fill="#1a476f"/>
<circle cx="417.68" cy="1059.86" r="2.55" fill="#1a476f"/>
<circle cx="431.67" cy="1064.67" r="2.55" fill="#1a476f"/>
<circle cx="445.66" cy="1063.02" r="2.55" fill="#1a476f"/>
<circle cx="459.65" cy="1062.42" r="2.55" fill="#1a476f"/>
<circle cx="473.64" cy="1042.57" r="2.55" fill="#1a476f"/>
<circle cx="487.63" cy="1029.12" r="2.55" fill="#1a476f"/>
<circle cx="501.62" cy="1012.21" r="2.55" fill="#1a476f"/>
<circle cx="515.61" cy="996.88" r="2.55" fill="#1a476f"/>
<circle cx="529.60" cy="988.23" r="2.55" fill="#1a476f"/>
<circle cx="543.59" cy="986.43" r="2.55" fill="#1a476f"/>
<circle cx="557.58" cy="991.77" r="2.55" fill="#1a476f"/>
<circle cx="571.57" cy="1001.76" r="2.55" fill="#1a476f"/>
<circle cx="585.56" cy="1002.59" r="2.55" fill="#1a476f"/>
<circle cx="599.55" cy="974.78" r="2.55" fill="#1a476f"/>
<circle cx="613.54" cy="966.96" r="2.55" fill="#1a476f"/>
<circle cx="627.53" cy="964.48" r="2.55" fill="#1a476f"/>
<circle cx="641.52" cy="956.74" r="2.55" fill="#1a476f"/>
<circle cx="655.51" cy="944.41" r="2.55" fill="#1a476f"/>
<circle cx="669.50" cy="921.57" r="2.55" fill="#1a476f"/>
</svg>
</body></html>
